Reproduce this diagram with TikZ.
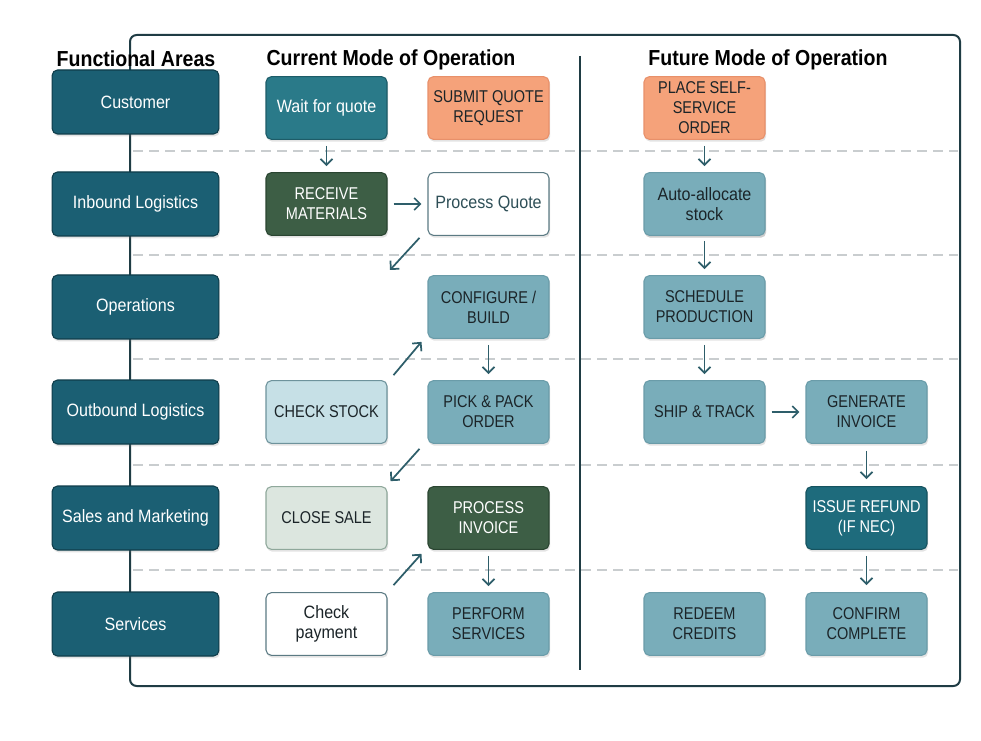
\documentclass[tikz,border=0pt]{standalone}
\usepackage{fontspec}
\setmainfont{Liberation Sans}[FakeStretch=0.9]
\setsansfont{Liberation Sans}[FakeStretch=0.9]
\newfontfamily\capsfont{Liberation Sans}[FakeStretch=0.85]
\usetikzlibrary{arrows.meta,shadows,calc}
\definecolor{faFill}{HTML}{1B5F73}
\definecolor{faDraw}{HTML}{0F3D4A}
\definecolor{waitFill}{HTML}{2A7A89}
\definecolor{waitDraw}{HTML}{1D5C68}
\definecolor{orFill}{HTML}{F5A27A}
\definecolor{orDraw}{HTML}{E8906A}
\definecolor{grFill}{HTML}{3D5E45}
\definecolor{grDraw}{HTML}{2A4531}
\definecolor{ltFill}{HTML}{79ADBA}
\definecolor{ltDraw}{HTML}{6A9CA9}
\definecolor{csFill}{HTML}{C6E0E6}
\definecolor{csDraw}{HTML}{6E939C}
\definecolor{clFill}{HTML}{DCE6DF}
\definecolor{clDraw}{HTML}{8FA89B}
\definecolor{whDraw}{HTML}{5B7A83}
\definecolor{rfFill}{HTML}{1E6B7C}
\definecolor{rfDraw}{HTML}{16535F}
\definecolor{frameC}{HTML}{1F3C44}
\definecolor{arrowC}{HTML}{2E5E6A}
\definecolor{dashC}{HTML}{C9CDCF}
\definecolor{darkTxt}{HTML}{1B2428}
\definecolor{pqTxt}{HTML}{2E4F57}
\begin{document}
\begin{tikzpicture}[x=0.75pt,y=-0.75pt,
  box/.style={rounded corners=4pt, line width=0.8pt, minimum width=90.75pt, minimum height=47pt,
    align=center, inner sep=1pt, font=\fontsize{13.4}{15}\selectfont,
    drop shadow={opacity=0.22, shadow xshift=0.8pt, shadow yshift=-1.8pt}},
  caps/.style={font=\capsfont\fontsize{12.8}{15}\selectfont},
  fabox/.style={box, fill=faFill, draw=faDraw, text=white, minimum width=125pt, minimum height=48pt},
  waitbox/.style={box, fill=waitFill, draw=waitDraw, text=white},
  orbox/.style={box, caps, fill=orFill, draw=orDraw, text=darkTxt},
  grbox/.style={box, caps, fill=grFill, draw=grDraw, text=white},
  ltbox/.style={box, caps, fill=ltFill, draw=ltDraw, text=darkTxt},
  csbox/.style={box, caps, fill=csFill, draw=csDraw, text=darkTxt},
  clbox/.style={box, caps, fill=clFill, draw=clDraw, text=darkTxt},
  whbox/.style={box, fill=white, draw=whDraw, text=darkTxt},
  rfbox/.style={box, caps, fill=rfFill, draw=rfDraw, text=white},
  arr/.style={draw=arrowC, line width=1.3pt, -{Straight Barb[length=4.5pt,width=9pt,line width=1.3pt]}},
  sep/.style={draw=dashC, line width=0.9pt, dash pattern=on 7.5pt off 4.5pt},
  head/.style={font=\bfseries\fontsize{16.3}{18}\selectfont, text=black, inner sep=0pt}
]
\useasboundingbox (0,0) rectangle (981,741);
\fill[white] (0,0) rectangle (981,741);

% dashed separators
\foreach \yy in {151,255,359,465,570}{
  \draw[sep] (133,\yy) -- (958,\yy);
}

% outer frame (its left edge is the spine of the functional areas)
\draw[frameC, line width=1.5pt, rounded corners=5pt] (130,35) rectangle (960,686);
% divider
\draw[frameC, line width=1pt] (580,56) -- (580,670);

% headers
\node[head] (hfa) at (136,59) {Functional Areas};
\node[head] (hcur) at (391,60) {Current Mode of Operation};
\node[head] (hfut) at (768,60) {Future Mode of Operation};

% functional areas
\node[fabox] (cust) at (135.5,102) {Customer};
\node[fabox] (inb) at (135.5,204) {Inbound Logistics};
\node[fabox] (ops) at (135.5,307) {Operations};
\node[fabox] (outb) at (135.5,412) {Outbound Logistics};
\node[fabox] (sales) at (135.5,518) {Sales and Marketing};
\node[fabox] (serv) at (135.5,624) {Services};

% current mode
\node[waitbox] (wait) at (326.5,108) {Wait for quote};
\node[orbox] (subq) at (488.5,108) {SUBMIT QUOTE\\REQUEST};
\node[grbox] (recv) at (326.5,204) {RECEIVE\\MATERIALS};
\node[whbox, text=pqTxt] (pq) at (488.5,204) {Process Quote};
\node[ltbox] (cfg) at (488.5,307) {CONFIGURE /\\BUILD};
\node[csbox] (cs) at (326.5,412) {CHECK STOCK};
\node[ltbox] (pp) at (488.5,412) {PICK \& PACK\\ORDER};
\node[clbox] (cl) at (326.5,518) {CLOSE SALE};
\node[grbox] (pi) at (488.5,518) {PROCESS\\INVOICE};
\node[whbox] (cp) at (326.5,624) {Check\\payment};
\node[ltbox] (ps) at (488.5,624) {PERFORM\\SERVICES};

% future mode
\node[orbox] (pso) at (704.5,108) {PLACE SELF-\\SERVICE\\ORDER};
\node[ltbox, box, font=\fontsize{13.4}{15}\selectfont] (aa) at (704.5,204) {Auto-allocate\\stock};
\node[ltbox] (sp) at (704.5,307) {SCHEDULE\\PRODUCTION};
\node[ltbox] (st) at (704.5,412) {SHIP \& TRACK};
\node[ltbox] (gi) at (866.5,412) {GENERATE\\INVOICE};
\node[rfbox] (ir) at (866.5,518) {ISSUE REFUND\\(IF NEC)};
\node[ltbox] (rc) at (704.5,624) {REDEEM\\CREDITS};
\node[ltbox] (cc) at (866.5,624) {CONFIRM\\COMPLETE};

% arrows current
\draw[arr] ($(wait.south)+(0,6)$) -- ($(recv.north)+(0,-6)$);
\draw[arr] ($(recv.east)+(6,0)$) -- ($(pq.west)+(-6,0)$);
\coordinate (pqend) at (390,270);
\draw[arr] ($(pq.south west)+(-8,2)$) -- (pqend);
\draw[arr] ($(cs.north east)+(6,-5)$) -- ($(cfg.south west)+(-6,3)$);
\draw[arr] ($(cfg.south)+(0,6)$) -- ($(pp.north)+(0,-6)$);
\draw[arr] ($(pp.south west)+(-8,5)$) -- ($(cl.north east)+(3,-5)$);
\draw[arr] ($(cp.north east)+(6,-7)$) -- ($(pi.south west)+(-6,4)$);
\draw[arr] ($(pi.south)+(0,6)$) -- ($(ps.north)+(0,-6)$);

% arrows future
\draw[arr] ($(pso.south)+(0,6)$) -- ($(aa.north)+(0,-6)$);
\draw[arr] ($(aa.south)+(0,5)$) -- ($(sp.north)+(0,-6)$);
\draw[arr] ($(sp.south)+(0,6)$) -- ($(st.north)+(0,-6)$);
\draw[arr] ($(st.east)+(6,0)$) -- ($(gi.west)+(-6,0)$);
\draw[arr] ($(gi.south)+(0,7)$) -- ($(ir.north)+(0,-7)$);
\draw[arr] ($(ir.south)+(0,6)$) -- ($(cc.north)+(0,-7)$);
\end{tikzpicture}
\end{document}
